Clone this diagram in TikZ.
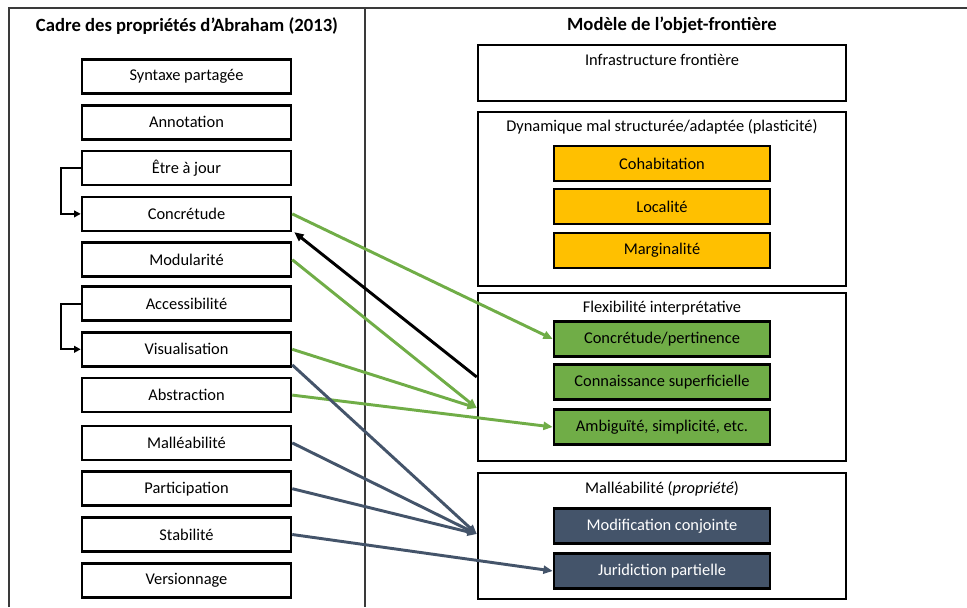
\documentclass[tikz,border=0pt]{standalone}
\usepackage{fontspec}
\setmainfont{Carlito}
\usetikzlibrary{arrows.meta}
\definecolor{amber}{HTML}{FFC000}
\definecolor{leaf}{HTML}{70AD47}
\definecolor{slate}{HTML}{44546A}
\definecolor{rule}{HTML}{3A3A3A}
\begin{document}
\begin{tikzpicture}[x=0.75pt,y=-0.75pt,
  prop/.style={draw=black,line width=1.9pt,fill=white,minimum width=156.75pt,
    minimum height=25.5pt,inner sep=0pt,font=\fontsize{12.3}{14}\selectfont},
  group/.style={draw=black,line width=1.9pt,minimum width=276pt,inner sep=0pt},
  grouptitle/.style={font=\fontsize{12.3}{14}\selectfont,inner sep=0pt},
  item/.style={draw=black,line width=1.9pt,minimum width=162pt,minimum height=26pt,
    inner sep=0pt,font=\fontsize{12.3}{14}\selectfont},
  header/.style={font=\bfseries\fontsize{14}{16}\selectfont,inner sep=0pt},
  tip/.style={-{Triangle[length=7pt,width=6pt]}},
  link/.style={tip,line width=2.2pt},
  hook/.style={-{Triangle[length=5pt,width=5pt]},line width=1.5pt}
]
\useasboundingbox (0,0) rectangle (967,607);

% frame of the two columns
\draw[rule,line width=1.2pt] (9,607) -- (9,8) -- (967,8);
\draw[rule,line width=1.2pt] (365,8) -- (365,607);

% column headers
\node[header] (hleft) at (187,26) {Cadre des propriétés d’Abraham (2013)};
\node[header] (hright) at (672,25) {Modèle de l’objet-frontière};

% Abraham's properties
\node[prop] (syn)  at (186.5,76.5)  {Syntaxe partagée};
\node[prop] (ann)  at (186.5,122.3) {Annotation};
\node[prop] (etre) at (186.5,168.1) {Être à jour};
\node[prop] (conc) at (186.5,213.9) {Concrétude};
\node[prop] (modu) at (186.5,259.7) {Modularité};
\node[prop] (acc)  at (186.5,303.5) {Accessibilité};
\node[prop] (vis)  at (186.5,349.3) {Visualisation};
\node[prop] (abs)  at (186.5,395.1) {Abstraction};
\node[prop] (mal)  at (186.5,442.9) {Malléabilité};
\node[prop] (par)  at (186.5,488.7) {Participation};
\node[prop] (sta)  at (186.5,534.5) {Stabilité};
\node[prop] (ver)  at (186.5,580.3) {Versionnage};

% dependencies between properties
\draw[hook] (etre.west) -- ++(-20,0) |- (conc.west);
\draw[hook] (acc.west) -- ++(-20,0) |- (vis.west);

% boundary-object model
\node[group,minimum height=42pt]  (infra) at (662,73)  {};
\node[group,minimum height=130.5pt] (dyn) at (662,199) {};
\node[group,minimum height=126pt] (flex) at (662,377) {};
\node[group,minimum height=94.5pt] (mall) at (662,536) {};

\node[grouptitle] (tinfra) at (662,60)  {Infrastructure frontière};
\node[grouptitle] (tdyn)   at (662,127) {Dynamique mal structurée/adaptée (plasticité)};
\node[grouptitle] (tflex)  at (662,308) {Flexibilité interprétative};
\node[grouptitle] (tmall)  at (662,489) {Malléabilité (\textit{propriété})};

\node[item,fill=amber] (coh)  at (662,163.5) {Cohabitation};
\node[item,fill=amber] (loc)  at (662,206.5) {Localité};
\node[item,fill=amber] (marg) at (662,250.5) {Marginalité};

\node[item,fill=leaf] (cp)   at (662,339) {Concrétude/pertinence};
\node[item,fill=leaf] (cs)   at (662,382) {Connaissance superficielle};
\node[item,fill=leaf] (amb)  at (662,427) {Ambiguïté, simplicité, etc.};

\node[item,fill=slate,text=white] (mc) at (662,526) {Modification conjointe};
\node[item,fill=slate,text=white] (jp) at (662,571) {Juridiction partielle};

% entry points on the group frames
\coordinate (flexin) at ([yshift=-31*0.75pt]flex.west);
\coordinate (mallin) at ([yshift=2*0.75pt]mall.west);

% correspondences
\draw[link,leaf] (conc.east) -- (cp.west);
\draw[link,leaf] (modu.east) -- (flexin);
\draw[link,leaf] (vis.east) -- (flexin);
\draw[link,leaf] (abs.east) -- (amb.west);
\draw[link,black] (flex.west) -- ([xshift=1.5pt]conc.south east);
\draw[link,slate] ([yshift=2pt]vis.south east) -- (mallin);
\draw[link,slate] (mal.east) -- (mallin);
\draw[link,slate] (par.east) -- (mallin);
\draw[link,slate] (sta.east) -- (jp.west);
\end{tikzpicture}
\end{document}
